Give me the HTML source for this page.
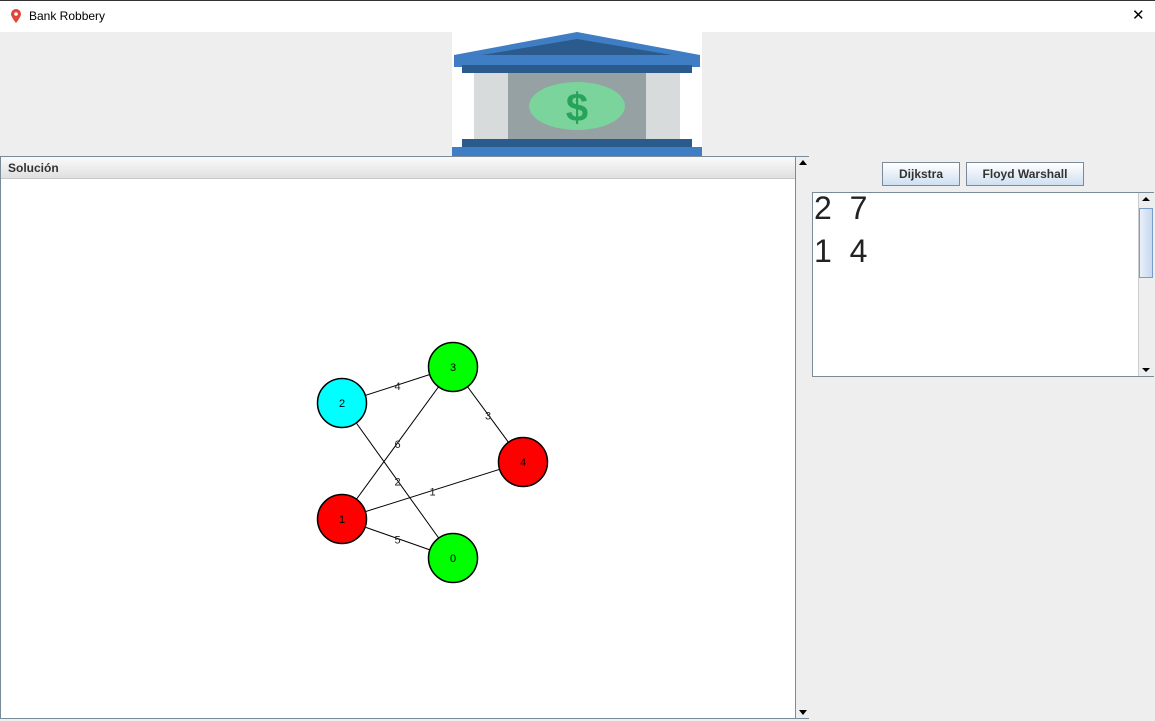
<!DOCTYPE html>
<html><head><meta charset="utf-8"><style>
body{margin:0;width:1155px;height:721px;background:#eeeeee;font-family:"Liberation Sans",sans-serif;position:relative;overflow:hidden}
.abs{position:absolute}
</style></head><body>
<div class="abs" style="left:0;top:0;width:1155px;height:31px;background:#fff;border-top:1px solid #333">
  <svg class="abs" style="left:10px;top:7px" width="12" height="16"><path d="M6 1a5 5 0 0 1 5 5c0 3-5 9-5 9S1 9 1 6a5 5 0 0 1 5-5z" fill="#e0443a"/><circle cx="6" cy="6" r="1.8" fill="#fff"/></svg>
  <div class="abs" style="left:29px;top:8px;font-size:12px;color:#000">Bank Robbery</div>
  <div class="abs" style="left:1132px;top:5px;font-size:15px;color:#000">✕</div>
</div>
<svg class="abs" style="left:452px;top:31px" width="250" height="126">
  <rect x="0" y="0" width="250" height="126" fill="#fff"/>
  <polygon points="2,24 125,1 248,24 248,36 2,36" fill="#3f7ec4"/>
  <polygon points="30,24 125,8 220,24" fill="#2a5b8c"/>
  <rect x="10" y="34" width="230" height="8" fill="#2a5b8c"/>
  <rect x="50" y="42" width="150" height="66" fill="#95a1a3"/>
  <rect x="22" y="42" width="34" height="66" fill="#d7dbdc"/>
  <rect x="194" y="42" width="34" height="66" fill="#d7dbdc"/>
  <ellipse cx="125" cy="75" rx="48" ry="24" fill="#7ad49b"/>
  <text x="125" y="90" font-size="40" font-weight="bold" text-anchor="middle" fill="#27a35a" font-family="Liberation Sans">$</text>
  <rect x="10" y="108" width="230" height="10" fill="#2a5b8c"/>
  <rect x="0" y="116" width="250" height="10" fill="#3f7ec4"/>
</svg>
<div class="abs" style="left:0;top:156px;width:809px;height:563px;border:1px solid #7a8a99;background:#fff;box-sizing:border-box">
  <div class="abs" style="left:0;top:0;width:794px;height:22px;background:linear-gradient(#fafafa,#e0e0e0);border-bottom:1px solid #c8c8c8;font-size:12px;font-weight:bold;color:#333;line-height:22px;padding-left:7px;box-sizing:border-box">Solución</div>
  <div class="abs" style="left:794px;top:0;width:14px;height:561px;background:#eee;border-left:1px solid #7a8a99">
    <div style="position:absolute;top:3px;left:3px;width:0;height:0;border-left:4px solid transparent;border-right:4px solid transparent;border-bottom:5px solid #000"></div>
    <div style="position:absolute;bottom:3px;left:3px;width:0;height:0;border-left:4px solid transparent;border-right:4px solid transparent;border-top:5px solid #000"></div>
  </div>
</div>
<svg id="graph" class="abs" style="left:0;top:0" width="800" height="721"></svg>
<div class="abs" style="left:882px;top:162px;width:78px;height:24px;border:1px solid #7a8a99;box-sizing:border-box;background:linear-gradient(#fff,#cfe0f0);font-size:12px;font-weight:bold;color:#333;text-align:center;line-height:22px">Dijkstra</div>
<div class="abs" style="left:966px;top:162px;width:118px;height:24px;border:1px solid #7a8a99;box-sizing:border-box;background:linear-gradient(#fff,#cfe0f0);font-size:12px;font-weight:bold;color:#333;text-align:center;line-height:22px">Floyd Warshall</div>
<div class="abs" style="left:812px;top:192px;width:342px;height:185px;border:1px solid #7a8a99;box-sizing:border-box;background:#fff">
  <div class="abs" style="left:1px;top:-6px;font-size:32px;line-height:43px;color:#222;white-space:pre">2  7
1  4</div>
  <div class="abs" style="left:325px;top:0;width:15px;height:183px;background:#eee;border-left:1px solid #ccc">
    <div style="position:absolute;top:4px;left:3px;border-left:4px solid transparent;border-right:4px solid transparent;border-bottom:4px solid #000"></div>
    <div style="position:absolute;top:15px;left:0;width:14px;height:70px;background:linear-gradient(90deg,#e8f0fa,#c8d8ec);border:1px solid #7a9ccc;box-sizing:border-box"></div>
    <div style="position:absolute;bottom:4px;left:3px;border-left:4px solid transparent;border-right:4px solid transparent;border-top:4px solid #000"></div>
  </div>
</div>
<script>
const nodeIds=[0,1,2,3,4];
const nodeX=[453,342,342,453,523];
const nodeY=[558,519,403,367,462];
const nodeColors=["#00ff00","#ff0000","#00ffff","#00ff00","#ff0000"];
const edgeFrom=[2,3,3,2,1,1];
const edgeTo=[3,4,1,0,4,0];
const edgeWeights=[4,3,6,2,1,5];
const svg=document.getElementById('graph');
const NS='http://www.w3.org/2000/svg';
function mk(t,a){const e=document.createElementNS(NS,t);for(const k in a)e.setAttribute(k,a[k]);svg.appendChild(e);return e;}
for(let i=0;i<edgeFrom.length;i++){
  const a=edgeFrom[i],b=edgeTo[i];
  const l=mk('line',{x1:nodeX[a],y1:nodeY[a],x2:nodeX[b],y2:nodeY[b],stroke:'#000','stroke-width':1});
  
  
  const mx=(nodeX[a]+nodeX[b])/2, my=(nodeY[a]+nodeY[b])/2;
  const t=mk('text',{x:mx,y:my+5,'font-size':11,'font-family':'Liberation Sans','text-anchor':'middle',fill:'#222'});
  t.textContent=edgeWeights[i];
  
  
}
for(let i=0;i<nodeIds.length;i++){
  const c=mk('circle',{cx:nodeX[i],cy:nodeY[i],r:24.5,fill:nodeColors[i],stroke:'#000','stroke-width':1.5});
  
  
  const t=mk('text',{x:nodeX[i],y:nodeY[i]+4,'font-size':11,'font-family':'Liberation Sans','text-anchor':'middle',fill:'#000'});
  t.textContent=nodeIds[i];
  
  
}
</script>
</body></html>
